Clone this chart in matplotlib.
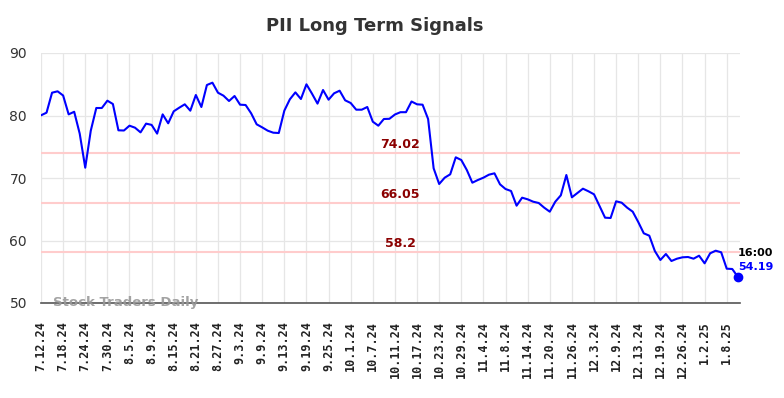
import numpy as np
import matplotlib.pyplot as plt

# signal values, one per trading day (7.12.24 .. 1.10.25)
values = [
    80.03, 80.45, 83.65, 83.87, 83.2, 80.18, 80.6, 77.1, 71.65, 77.57,
    81.2, 81.2, 82.37, 81.84, 77.63, 77.6, 78.37, 78.05, 77.3, 78.7,
    78.5, 77.1, 80.18, 78.75, 80.67, 81.25, 81.79, 80.77, 83.28, 81.36,
    84.88, 85.25, 83.65, 83.17, 82.32, 83.12, 81.73, 81.68, 80.35, 78.59,
    78.1, 77.57, 77.25, 77.2, 80.77, 82.59, 83.7, 82.64, 84.99, 83.5,
    81.9, 84.08, 82.53, 83.55, 83.97, 82.43, 82.0, 80.93, 80.93, 81.36,
    79.01, 78.37, 79.44, 79.47, 80.16, 80.53, 80.53, 82.24, 81.79, 81.73,
    79.44, 71.55, 69.04, 70.05, 70.59, 73.31, 72.88, 71.28, 69.25, 69.68,
    70.05, 70.53, 70.75, 68.99, 68.24, 67.92, 65.57, 66.85, 66.59, 66.21,
    66.0, 65.25, 64.61, 66.21, 67.23, 70.48, 66.91, 67.6, 68.29, 67.87,
    67.39, 65.52, 63.65, 63.6, 66.27, 66.05, 65.25, 64.61, 62.96, 61.15,
    60.77, 58.32, 56.88, 57.84, 56.72, 57.09, 57.31, 57.36, 57.09, 57.57,
    56.35, 57.95, 58.37, 58.11, 55.49, 55.44, 54.19,
]

tick_labels = [
    "7.12.24", "7.18.24", "7.24.24", "7.30.24", "8.5.24", "8.9.24", "8.15.24",
    "8.21.24", "8.27.24", "9.3.24", "9.9.24", "9.13.24", "9.19.24", "9.25.24",
    "10.1.24", "10.7.24", "10.11.24", "10.17.24", "10.23.24", "10.29.24",
    "11.4.24", "11.8.24", "11.14.24", "11.20.24", "11.26.24", "12.3.24",
    "12.9.24", "12.13.24", "12.19.24", "12.26.24", "1.2.25", "1.8.25",
]

levels = [74.02, 66.05, 58.2]
level_labels = ["74.02", "66.05", "58.2"]

last_time = "16:00"

x = np.arange(len(values))

fig = plt.figure(figsize=(7.84, 3.98), dpi=100)
ax = fig.add_axes([41 / 784, 1 - 303 / 398, 699 / 784, 250 / 398])

ax.set_xlim(0, 126.4)
ax.set_ylim(50, 90)
ax.set_yticks([50, 60, 70, 80, 90])
ax.set_xticks(np.arange(0, 4 * len(tick_labels), 4))
ax.set_xticklabels(tick_labels, rotation=90, family="DejaVu Sans Mono",
                   fontweight="bold", fontsize=8.5)
ax.tick_params(axis="y", labelsize=10, labelcolor="#333333", length=0, pad=10)
ax.tick_params(axis="x", length=0, pad=13, labelcolor="#222222")
ax.grid(True, color="#e6e6e6", linewidth=0.9)
ax.set_axisbelow(True)
for s in ["left", "right", "top"]:
    ax.spines[s].set_visible(False)
ax.spines["bottom"].set_color("#555555")
ax.spines["bottom"].set_linewidth(1.2)

# support / resistance levels
for lv, lab in zip(levels, level_labels):
    ax.axhline(lv, color="#ffcccc", linewidth=1.5, zorder=1)
    ax.text(65, lv + 1.3, lab, color="#8b0000", fontsize=9,
            fontweight="bold", ha="center", va="center")

ax.plot(x, values, color="#0000ff", linewidth=1.5, zorder=3)
ax.plot(x[-1], values[-1], "o", color="#0000ff", markersize=6, zorder=4,
        clip_on=False)

ax.annotate(last_time, (x[-1], values[-1]), xytext=(0, 17),
            textcoords="offset points", color="black", fontsize=8,
            fontweight="bold", ha="left", va="center", annotation_clip=False)
ax.annotate(f"{values[-1]:.2f}", (x[-1], values[-1]), xytext=(0, 7),
            textcoords="offset points", color="#0000ff", fontsize=8,
            fontweight="bold", ha="left", va="center", annotation_clip=False)

ax.text(2.2, 50.1, "Stock Traders Daily", color="#999999", fontsize=9.5,
        fontweight="bold", ha="left", va="center", alpha=0.9)

fig.suptitle("PII Long Term Signals", x=375 / 784, y=1 - 26 / 398,
             fontsize=13, fontweight="bold", color="#333333", va="center")

fig.savefig("out.png", dpi=100)
